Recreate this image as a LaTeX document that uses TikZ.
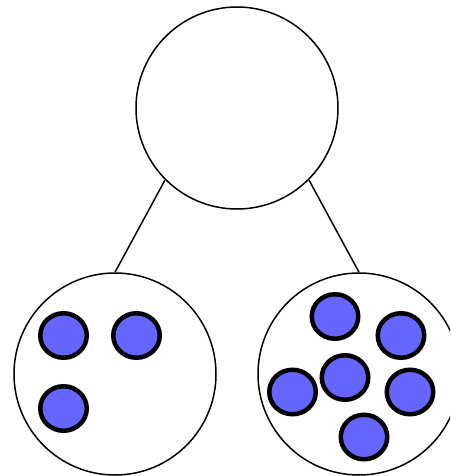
\documentclass[tikz,border=0pt]{standalone}
\usetikzlibrary{shapes.geometric}
\definecolor{grpBlue}{HTML}{6666FF}
\tikzset{
  grp set/.style={circle, draw=black, fill=white, line width=1.5pt, minimum size=202pt, inner sep=0pt},
  grp dot/.style={ellipse, draw=black, fill=grpBlue, line width=4.5pt, minimum width=46.5pt, minimum height=44.5pt, inner sep=0pt},
  grp link/.style={draw=black, line width=1.5pt},
}
\begin{document}
\begin{tikzpicture}[x=1pt,y=-1pt]
  \useasboundingbox (0,0) rectangle (450,476);
  \clip (0,0) rectangle (450,476);
  \node[grp set] (root) at (237,108) {};
  \node[grp set] (left) at (115,374) {};
  \node[grp set] (right) at (359,374) {};
  \draw[grp link] (root.south west) -- (left.north);
  \draw[grp link] (root.south east) -- (right.north);
  % members of the left set
  \foreach \n/\x/\y in {l1/63.5/335.5, l2/136.5/335.5, l3/63.5/408.5} {
    \node[grp dot] (\n) at (\x,\y) {};
  }
  % members of the right set
  \foreach \n/\x/\y in {r1/335/316.5, r2/401/335.5, r3/345/377.5, r4/292.5/392, r5/410/392, r6/364/437} {
    \node[grp dot] (\n) at (\x,\y) {};
  }
\end{tikzpicture}
\end{document}
